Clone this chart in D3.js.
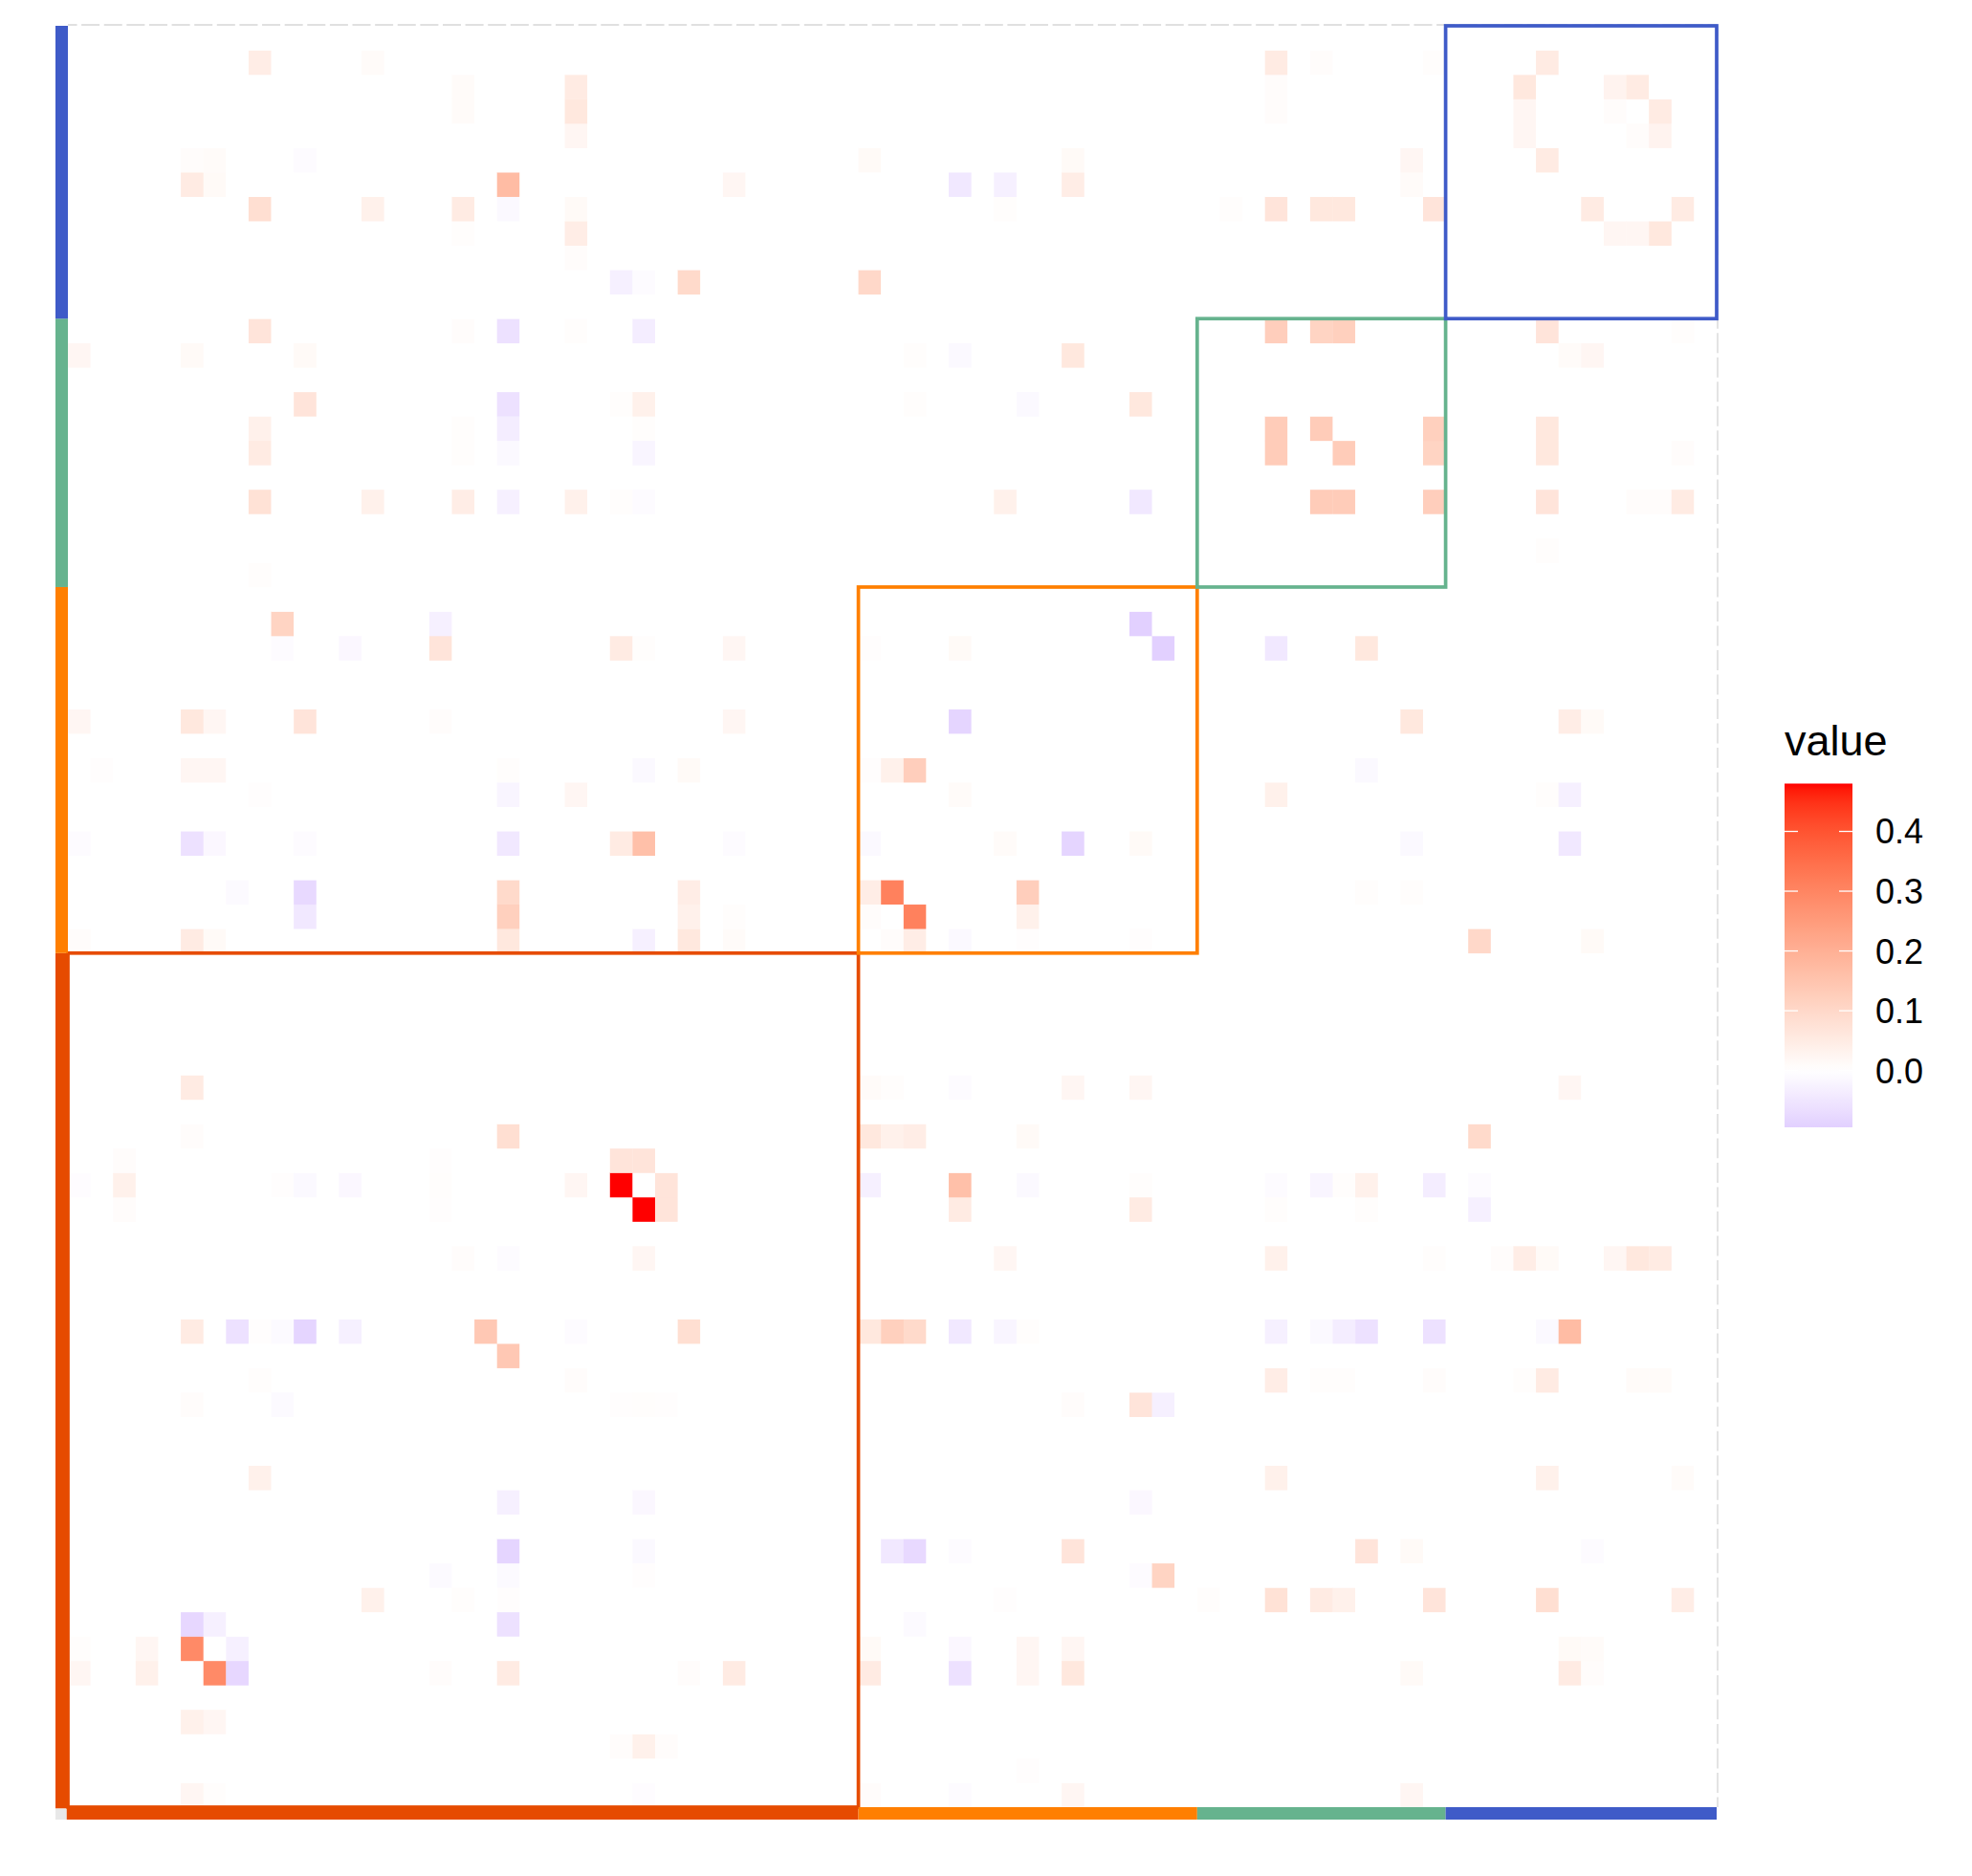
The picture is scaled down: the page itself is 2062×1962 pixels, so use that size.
<!DOCTYPE html>
<html>
<head>
<meta charset="utf-8">
<script src="https://cdn.jsdelivr.net/npm/d3@7"></script>
<style>
  body { margin: 0; background: #fff; }
  text { font-family: "Liberation Sans", Arial, sans-serif; }
</style>
</head>
<body>
<div id="chart"></div>
<script>
// variable groups, in matrix order (variable 0 sits bottom-left)
var groupNames = ["g1", "g2", "g3", "g4"];
var groupSizes = [35, 15, 11, 12];
var groupColors = ["#E64B00", "#FF7F00", "#66B38E", "#3F5BC8"];

var legendTicks = [0, 0.1, 0.2, 0.3, 0.4];
var valueRange = [-0.095, 0.48];

// non-zero entries of the symmetric matrix as [i, j, value], i < j
var blockG1 = [
  [5,29,0.052],[5,27,0.008],[19,27,0.082],[2,26,0.008],[16,26,0.004],[24,26,0.068],[25,26,0.068],
  [0,25,-0.005],[2,25,0.036],[9,25,0.004],[10,25,-0.012],[12,25,-0.015],[16,25,0.005],[22,25,0.022],
  [24,25,0.48],[2,24,0.008],[16,24,0.004],[17,22,0.008],[19,22,-0.008],[5,19,0.052],[7,19,-0.06],
  [8,19,0.004],[9,19,-0.01],[10,19,-0.085],[12,19,-0.03],[18,19,0.14],[8,17,0.005],[5,16,0.008],
  [9,16,-0.01],[8,13,0.036],[5,7,-0.08],[6,7,-0.03],[5,6,0.29],[0,6,0.005],[3,6,0.022],[3,5,0.036],
  [0,5,0.022]
];
var blockG2 = [
  [47,48,-0.095],[35,47,0.004],[39,47,0.014],[39,44,-0.085],[35,42,0.004],[36,42,0.036],[37,42,0.125],
  [39,41,0.011],[35,39,-0.012],[35,37,0.045],[36,37,0.31],[35,36,0.008]
];
var blockG3 = [
  [53,60,0.125],[55,60,0.11],[56,60,0.12],[53,56,0.13],[55,56,0.13],[53,55,0.13]
];
var blockG4 = [
  [65,71,0.052],[64,70,0.06],[68,70,0.03],[69,70,0.052],[64,69,0.022],[68,69,0.008],[64,68,0.022],
  [65,67,0.052]
];
var crossG1G2 = [
  [9,48,0.11],[16,48,-0.03],[9,47,-0.007],[12,47,-0.015],[16,47,0.068],[24,47,0.052],[25,47,0.005],
  [29,47,0.022],[0,44,0.022],[5,44,0.06],[6,44,0.022],[10,44,0.068],[16,44,0.008],[29,44,0.022],
  [1,42,0.004],[5,42,0.022],[6,42,0.022],[19,42,0.005],[25,42,-0.012],[27,42,0.014],[8,41,0.004],
  [19,41,-0.02],[22,41,0.022],[0,39,-0.007],[5,39,-0.06],[6,39,-0.015],[10,39,-0.007],[19,39,-0.045],
  [24,39,0.052],[25,39,0.16],[29,39,-0.007],[7,37,-0.01],[10,37,-0.075],[19,37,0.095],[27,37,0.045],
  [10,36,-0.045],[19,36,0.12],[27,36,0.036],[29,36,0.005],[0,35,0.008],[5,35,0.052],[6,35,0.014],
  [19,35,0.06],[25,35,-0.03],[27,35,0.06],[29,35,0.011]
];
var crossG1G3 = [
  [8,60,0.068],[17,60,0.008],[19,60,-0.06],[22,60,0.005],[25,60,-0.036],[0,59,0.022],[5,59,0.014],
  [10,59,0.014],[10,57,0.068],[19,57,-0.06],[24,57,0.005],[25,57,0.036],[8,56,0.036],[17,56,0.005],
  [19,56,-0.036],[25,56,0.005],[8,55,0.052],[17,55,0.005],[19,55,-0.012],[25,55,-0.02],[8,53,0.075],
  [13,53,0.036],[17,53,0.045],[19,53,-0.03],[22,53,0.036],[24,53,0.005],[25,53,-0.007],[8,50,0.005]
];
var crossG1G4 = [
  [8,71,0.045],[13,71,0.01],[17,70,0.01],[22,70,0.052],[17,69,0.01],[22,69,0.06],[22,68,0.022],
  [5,67,0.008],[6,67,0.011],[10,67,-0.007],[5,66,0.052],[6,66,0.014],[19,66,0.17],[29,66,0.022],
  [8,65,0.082],[13,65,0.036],[17,65,0.052],[19,65,-0.012],[22,65,0.014],[17,64,0.005],[22,64,0.045],
  [22,63,0.008],[24,62,-0.03],[25,62,-0.007],[27,62,0.095]
];
var crossG2G3 = [
  [37,59,0.005],[39,59,-0.012],[44,59,0.06],[37,57,0.005],[42,57,-0.012],[47,57,0.06],[41,53,0.036],
  [47,53,-0.045]
];
var crossG2G4 = [
  [35,67,0.014],[44,67,0.014],[39,66,-0.045],[41,66,-0.03],[44,66,0.045],[41,65,0.005],[35,62,0.1]
];
var crossG3G4 = [
  [53,71,0.052],[55,71,0.008],[60,71,0.005],[53,70,0.008],[53,69,0.008],[59,67,0.022],[59,66,0.011],
  [51,65,0.005],[53,65,0.068],[55,65,0.06],[56,65,0.06],[60,65,0.068]
];

var width = 2062, height = 1962;
var n = d3.sum(groupSizes);
var plot = {left: 71, right: 1795, top: 27, bottom: 1890};
var groupStarts = d3.cumsum([0].concat(groupSizes.slice(0, -1)));

var svg = d3.select("#chart").append("svg")
  .attr("width", width)
  .attr("height", height);

svg.append("rect").attr("width", width).attr("height", height).attr("fill", "#fff");

var x = d3.scaleBand().domain(d3.range(n)).range([plot.left, plot.right]);
var y = d3.scaleBand().domain(d3.range(n)).range([plot.bottom, plot.top]);
var bw = x.bandwidth(), bh = y.bandwidth();

// diverging fill, midpoint 0, stretched to the larger side like gradient2
var maxAbs = d3.max(valueRange, Math.abs);
var color = d3.scaleLinear()
  .domain([-maxAbs, 0, maxAbs])
  .range(["blue", "white", "red"])
  .interpolate(d3.interpolateLab)
  .clamp(true);

// build full symmetric matrix
var matrix = d3.range(n).map(function() { return new Array(n).fill(0); });
[].concat(blockG1, blockG2, blockG3, blockG4, crossG1G2, crossG1G3, crossG1G4, crossG2G3, crossG2G4, crossG3G4)
  .forEach(function(d) {
    matrix[d[0]][d[1]] = d[2];
    matrix[d[1]][d[0]] = d[2];
  });

var cells = [];
for (var i = 0; i < n; i++)
  for (var j = 0; j < n; j++)
    cells.push({i: i, j: j, v: matrix[i][j]});

svg.append("g").attr("class", "cells")
  .selectAll("rect")
  .data(cells)
  .join("rect")
    .attr("x", function(d) { return x(d.i); })
    .attr("y", function(d) { return y(d.j); })
    .attr("width", bw + 0.3)
    .attr("height", bh + 0.3)
    .attr("fill", function(d) { return color(d.v); });

// dashed panel edge, top and right
var dashCol = "#E0E0E0";
svg.append("line")
  .attr("x1", plot.left).attr("x2", plot.right)
  .attr("y1", plot.top - 1).attr("y2", plot.top - 1)
  .attr("stroke", dashCol).attr("stroke-width", 1.8)
  .attr("stroke-dasharray", (bw - 4.6) + "," + 4.6)
  .attr("stroke-dashoffset", 9.5);
svg.append("line")
  .attr("x1", plot.right + 1).attr("x2", plot.right + 1)
  .attr("y1", plot.top).attr("y2", plot.bottom)
  .attr("stroke", dashCol).attr("stroke-width", 1.8)
  .attr("stroke-dasharray", (bh - 4.6) + "," + 4.6)
  .attr("stroke-dashoffset", 10.5);

// block outlines along the diagonal
var groups = groupNames.map(function(name, k) {
  return {name: name, start: groupStarts[k], size: groupSizes[k], color: groupColors[k]};
});

svg.append("g").attr("class", "blocks")
  .selectAll("rect")
  .data(groups)
  .join("rect")
    .attr("x", function(d) { return x(d.start); })
    .attr("y", function(d) { return y(d.start + d.size - 1); })
    .attr("width", function(d) { return d.size * bw; })
    .attr("height", function(d) { return d.size * bh; })
    .attr("fill", "none")
    .attr("stroke", function(d) { return d.color; })
    .attr("stroke-width", 3.7);

// group bars on the left and bottom
var barW = 13;
svg.append("g").selectAll("rect")
  .data(groups)
  .join("rect")
    .attr("x", plot.left - barW)
    .attr("y", function(d) { return y(d.start + d.size - 1); })
    .attr("width", barW)
    .attr("height", function(d) { return d.size * bh + (d.start == 0 ? 1.5 : 0); })
    .attr("fill", function(d) { return d.color; });

svg.append("g").selectAll("rect")
  .data(groups)
  .join("rect")
    .attr("x", function(d) { return x(d.start) - (d.start == 0 ? 1.5 : 0); })
    .attr("y", plot.bottom)
    .attr("width", function(d) { return d.size * bw + (d.start == 0 ? 1.5 : 0); })
    .attr("height", barW)
    .attr("fill", function(d) { return d.color; });

svg.append("rect")
  .attr("x", plot.left - barW).attr("y", plot.bottom + 1.5)
  .attr("width", barW - 1.5).attr("height", barW - 1.5)
  .attr("fill", "#E8E8E8");

// legend
var leg = {x: 1866, w: 71, top: 819.5, bottom: 1179};
var ly = d3.scaleLinear().domain(valueRange).range([leg.bottom, leg.top]);

var grad = svg.append("defs").append("linearGradient")
  .attr("id", "legGrad")
  .attr("x1", 0).attr("x2", 0).attr("y1", 1).attr("y2", 0);
d3.range(0, 1.0001, 0.02).forEach(function(t) {
  var v = valueRange[0] + t * (valueRange[1] - valueRange[0]);
  grad.append("stop").attr("offset", t).attr("stop-color", color(v));
});

svg.append("text")
  .attr("x", leg.x)
  .attr("y", 790)
  .style("font-size", "45px")
  .attr("fill", "#000")
  .text("value");

svg.append("rect")
  .attr("x", leg.x).attr("y", leg.top)
  .attr("width", leg.w).attr("height", leg.bottom - leg.top)
  .attr("fill", "url(#legGrad)");

var tickG = svg.append("g").selectAll("g")
  .data(legendTicks)
  .join("g")
    .attr("transform", function(d) { return "translate(0," + ly(d) + ")"; });

tickG.append("line")
  .attr("x1", leg.x).attr("x2", leg.x + 14)
  .attr("stroke", "#fff").attr("stroke-width", 1.3);
tickG.append("line")
  .attr("x1", leg.x + leg.w - 14).attr("x2", leg.x + leg.w)
  .attr("stroke", "#fff").attr("stroke-width", 1.3);
tickG.append("text")
  .attr("x", 1961)
  .attr("dy", "0.36em")
  .style("font-size", "36px")
  .attr("fill", "#000")
  .text(d3.format(".1f"));
</script>
</body>
</html>
